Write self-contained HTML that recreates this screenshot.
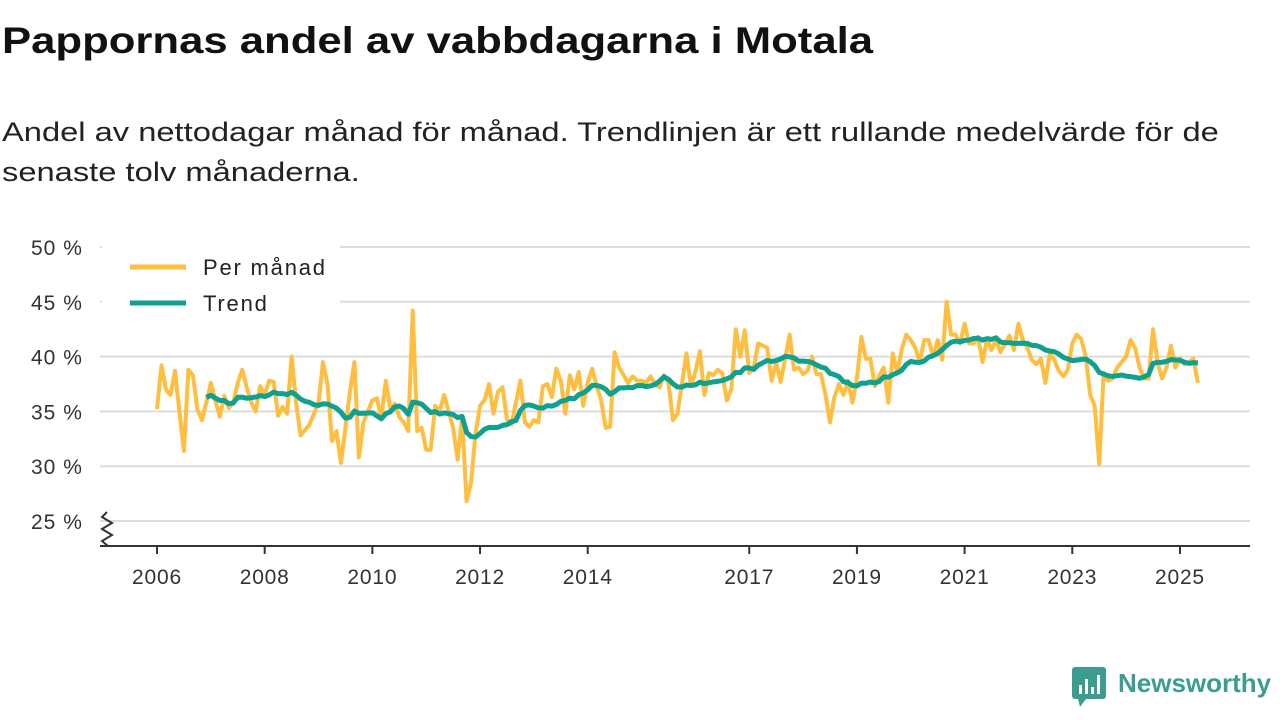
<!DOCTYPE html>
<html><head><meta charset="utf-8"><style>
body{margin:0;width:1280px;height:720px;background:#fff;font-family:"Liberation Sans",sans-serif;overflow:hidden;position:relative}
h1{position:absolute;left:2px;top:20px;margin:0;font-size:37px;font-weight:bold;color:#111;white-space:nowrap;transform-origin:0 0;transform:scaleX(1.18)}
.sub{position:absolute;left:2px;top:112px;margin:0;font-size:27px;line-height:40px;color:#222;white-space:nowrap;transform-origin:0 0;transform:scaleX(1.21)}
.logo{position:absolute;left:1118px;top:668px;font-size:26px;font-weight:bold;color:#3a9d90}
</style></head><body>
<h1>Pappornas andel av vabbdagarna i Motala</h1>
<p class="sub">Andel av nettodagar månad för månad. Trendlinjen är ett rullande medelvärde för de<br>senaste tolv månaderna.</p>
<svg id="chart" width="1280" height="720" style="position:absolute;left:0;top:0"></svg>
<svg width="36" height="40" style="position:absolute;left:1072px;top:667px"><rect x="0" y="0" width="34" height="32" rx="3" fill="#3a9d90"/><polygon points="6,32 14,32 8,40" fill="#3a9d90"/><rect x="7" y="18" width="3" height="9" fill="#fff"/><rect x="13" y="12" width="3" height="15" fill="#fff"/><rect x="19" y="20" width="3" height="7" fill="#fff"/><rect x="25" y="8" width="3" height="19" fill="#fff"/></svg>
<div class="logo">Newsworthy</div>
<script>
const startYear = 2006;
const monthly = [
35.2,39.2,37,36.5,38.7,35,31.4,38.8,38.3,35.2,34.2,35.8,
37.6,36,34.5,36.4,35.3,35.8,37.6,38.8,37.2,35.8,35,37.3,
36.5,37.8,37.7,34.6,35.4,34.8,40,35.8,32.8,33.3,33.8,34.8,
35.8,39.5,37.5,32.3,33.2,30.3,33.5,36.8,39.5,30.8,34,35,
36,36.2,34.4,37.8,35.2,35.7,34.5,34,33.2,44.2,33.2,33.5,
31.5,31.5,35.5,35,36.5,35,33.5,30.6,34.5,26.8,28.5,33,
35.5,36,37.5,34.8,36.8,37.2,34.3,33.8,35.8,37.8,34,33.6,
34.2,34,37.3,37.5,36.3,38.9,37.8,34.8,38.3,37,38.6,35.5,
37.6,38.9,37.3,36,33.5,33.6,40.4,39,38.3,37.6,38.2,37.8,
37.8,37.6,38.2,37.5,37.2,38.3,37.6,34.2,34.8,37.5,40.3,37.3,
38.6,40.5,36.5,38.5,38.3,38.8,38.5,36,37,42.5,40,42.4,
38.5,39,41.2,41,40.8,37.8,39.5,37.7,39.8,42,38.8,39,
38.4,38.7,40,38.4,38.4,36.5,34,36.3,37.5,36.5,37.8,35.8,
38,41.8,39.8,39.8,37.3,38.3,39,35.8,40.3,38.5,40.7,42,
41.5,40.8,39.5,41.5,41.5,40,41.5,39.7,45,42,42,41.2,
43,41.2,41.2,41.8,39.5,41.6,40.6,41.5,40.4,41.2,41.9,40.6,
43,41.5,40.8,39.7,39.3,39.8,37.6,40.3,39.7,38.7,38.2,38.8,
41.2,42,41.6,40,36.5,35.5,30.2,38.5,37.8,38,39,39.5,
40,41.5,40.8,39,38,38,42.5,39.5,38,39,41,39,
39.8,39.3,39.5,39.8,37.6];
const yTicks = [25,30,35,40,45,50];
const xTickYears = [2006,2008,2010,2012,2014,2017,2019,2021,2023,2025];
const NS="http://www.w3.org/2000/svg";
const svg=document.getElementById('chart');
const x0=157, pxYear=53.84, yTop=247, pxPct=10.96;
const xs=i=>x0+(i/12)*pxYear;
const xy=y=>x0+(y-startYear)*pxYear;
const ys=v=>yTop+(50-v)*pxPct;
function el(t,a){const e=document.createElementNS(NS,t);for(const k in a)e.setAttribute(k,a[k]);svg.appendChild(e);return e;}
yTicks.forEach(t=>{
  const g=el('line',{x1:100,x2:1250,y1:ys(t),y2:ys(t),stroke:'#ddd','stroke-width':2});
  
  
  const tx=el('text',{x:31,y:ys(t)+8,'font-size':21,'letter-spacing':1,fill:'#333','font-family':'Liberation Sans, sans-serif'});
  tx.textContent=t+' %';
  
  
});
const ax=el('line',{x1:100,x2:1250,y1:546,y2:546,stroke:'#333','stroke-width':2});


const zz=el('polyline',{points:'107,512 102,517 112,523 102,529 112,535 102,541 108,546',fill:'none',stroke:'#333','stroke-width':2});


xTickYears.forEach(y=>{
  const t=el('line',{x1:xy(y),x2:xy(y),y1:546,y2:554,stroke:'#333','stroke-width':2});
  
  
  const tx=el('text',{x:xy(y),y:584,'font-size':21,'letter-spacing':0.8,fill:'#333','text-anchor':'middle','font-family':'Liberation Sans, sans-serif'});
  tx.textContent=y;
  
  
});
const trend=[];
for(let i=11;i<monthly.length;i++){let s=0;for(let j=i-11;j<=i;j++)s+=monthly[j];trend.push([i,s/12]);}
const m=el('polyline',{points:monthly.map((v,i)=>xs(i)+','+ys(v)).join(' '),fill:'none',stroke:'#ffbe40','stroke-width':4,'stroke-linejoin':'round'});


const tr=el('polyline',{points:trend.map(p=>xs(p[0])+','+ys(p[1])).join(' '),fill:'none',stroke:'#10a08f','stroke-width':5,'stroke-linejoin':'round'});


const lb=el('rect',{x:102,y:240,width:238,height:80,fill:'#fff'});


[['Per månad','#ffbe40',267],['Trend','#10a08f',303]].forEach(d=>{
  const l=el('line',{x1:130,x2:186,y1:d[2],y2:d[2],stroke:d[1],'stroke-width':5});
  
  
  const t=el('text',{x:203,y:d[2]+8,'font-size':22,'letter-spacing':1.8,fill:'#222','font-family':'Liberation Sans, sans-serif'});
  t.textContent=d[0];
  
  
});
</script>
</body></html>
